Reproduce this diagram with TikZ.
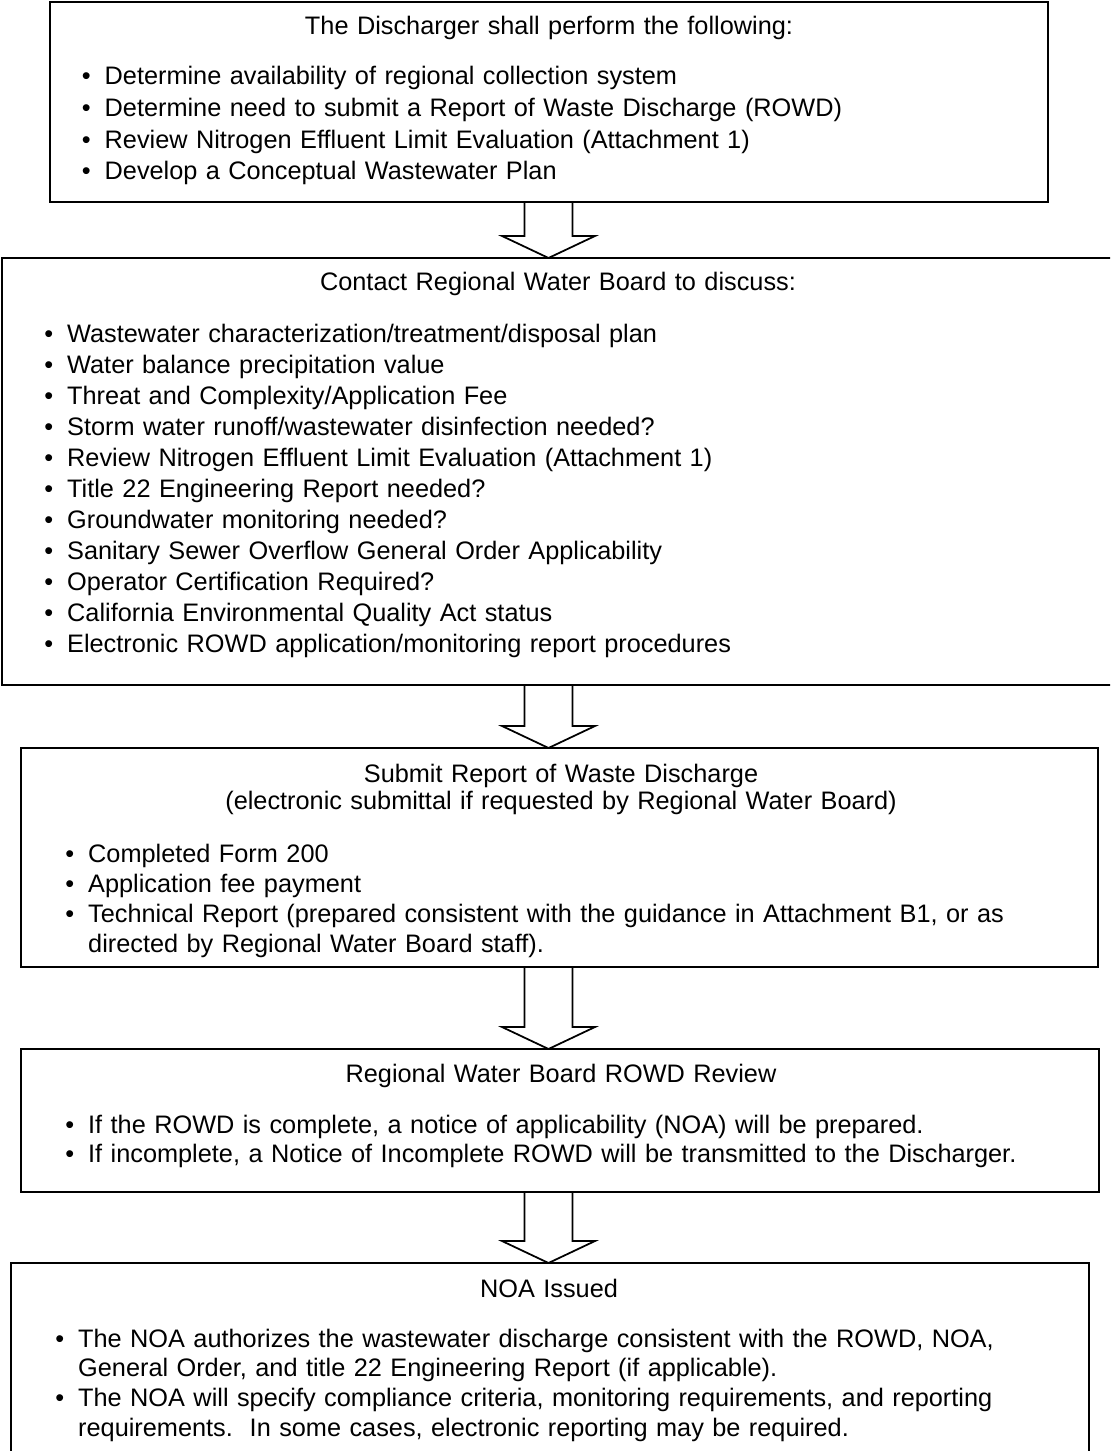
\documentclass[tikz,border=0pt]{standalone}
\usepackage{fontspec}
\setmainfont{Liberation Sans}
\usetikzlibrary{calc}

\newcommand\bitem[1]{\noindent\hangindent=13pt\hangafter=1\makebox[13pt][l]{\textbullet}#1\par}
\newcommand\blockarrow[2]{%
\draw[blockarr] let \p1=(#1.south -| ax), \p2=(#2.north -| ax) in
  (\x1-0.48cm,\y1) -- (\x1-0.48cm,\y2+0.44cm) -- (\x1-0.93cm,\y2+0.44cm) -- (\x2,\y2)
  -- (\x1+0.93cm,\y2+0.44cm) -- (\x1+0.48cm,\y2+0.44cm) -- (\x1+0.48cm,\y1);}

\begin{document}
\begin{tikzpicture}[
  box/.style={draw, line width=1pt, anchor=north west, outer sep=0pt, inner sep=0pt},
  titletext/.style={anchor=base, text width=20cm, align=center, inner sep=0pt, font=\fontsize{14.4}{15.9}\selectfont},
  listtext/.style={anchor=base west, text width=20cm, align=left, inner sep=0pt, font=\fontsize{14.4}{#1}\selectfont},
  listtext/.default=17.6pt,
  blockarr/.style={line width=1pt, line join=miter}
]
\path[use as bounding box, clip] (0,0) rectangle (22.2,-29.02);
\coordinate (ax) at (10.97,0);

\node[box, minimum width=19.96cm, minimum height=4cm] (perform) at (1.0,-0.04) {};
\node[titletext] (performtitle) at (10.98,-0.70) {The Discharger shall perform the following:};
\node[listtext=18pt] (performlist) at (1.63,-1.70) {%
  \bitem{Determine availability of regional collection system}
  \bitem{Determine need to submit a Report of Waste Discharge (ROWD)}
  \bitem{Review Nitrogen Effluent Limit Evaluation (Attachment 1)}
  \bitem{Develop a Conceptual Wastewater Plan}};

\node[box, minimum width=22.6cm, minimum height=8.54cm] (contact) at (0.04,-5.16) {};
\node[titletext] (contacttitle) at (11.16,-5.82) {Contact Regional Water Board to discuss:};
\node[listtext] (contactlist) at (0.88,-6.86) {%
  \bitem{Wastewater characterization/treatment/disposal plan}
  \bitem{Water balance precipitation value}
  \bitem{Threat and Complexity/Application Fee}
  \bitem{Storm water runoff/wastewater disinfection needed?}
  \bitem{Review Nitrogen Effluent Limit Evaluation (Attachment 1)}
  \bitem{Title 22 Engineering Report needed?}
  \bitem{Groundwater monitoring needed?}
  \bitem{Sanitary Sewer Overflow General Order Applicability}
  \bitem{Operator Certification Required?}
  \bitem{California Environmental Quality Act status}
  \bitem{Electronic ROWD application/monitoring report procedures}};

\node[box, minimum width=21.54cm, minimum height=4.38cm] (submit) at (0.42,-14.96) {};
\node[titletext] (submittitle) at (11.22,-15.64) {Submit Report of Waste Discharge\\(electronic submittal if requested by Regional Water Board)};
\node[listtext=17.2pt] (submitlist) at (1.30,-17.24) {%
  \bitem{Completed Form 200}
  \bitem{Application fee payment}
  \bitem{Technical Report (prepared consistent with the guidance in Attachment B1, or as\newline directed by Regional Water Board staff).}};

\node[box, minimum width=21.56cm, minimum height=2.86cm] (review) at (0.42,-20.98) {};
\node[titletext] (reviewtitle) at (11.22,-21.64) {Regional Water Board ROWD Review};
\node[listtext=17pt] (reviewlist) at (1.30,-22.66) {%
  \bitem{If the ROWD is complete, a notice of applicability (NOA) will be prepared.}
  \bitem{If incomplete, a Notice of Incomplete ROWD will be transmitted to the Discharger.}};

\node[box, minimum width=21.56cm, minimum height=5cm] (noa) at (0.22,-25.26) {};
\node[titletext] (noatitle) at (10.98,-25.94) {NOA Issued};
\node[listtext=17pt] (noalist) at (1.10,-26.94) {%
  \bitem{The NOA authorizes the wastewater discharge consistent with the ROWD, NOA,\newline General Order, and title 22 Engineering Report (if applicable).}
  \bitem{The NOA will specify compliance criteria, monitoring requirements, and reporting\newline requirements.\ \ In some cases, electronic reporting may be required.}};

\blockarrow{perform}{contact}
\blockarrow{contact}{submit}
\blockarrow{submit}{review}
\blockarrow{review}{noa}
\end{tikzpicture}
\end{document}
